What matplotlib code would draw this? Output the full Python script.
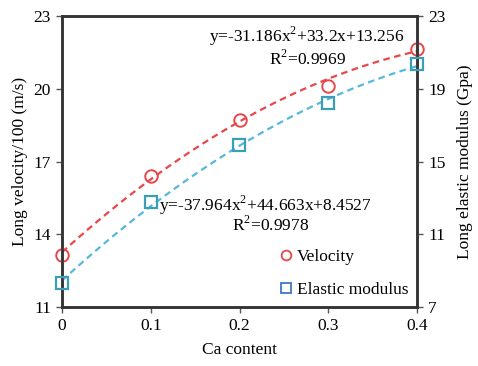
import matplotlib.pyplot as plt
import numpy as np
from matplotlib.lines import Line2D

plt.rcParams["font.family"] = ["Liberation Serif", "DejaVu Serif"]
plt.rcParams["mathtext.fontset"] = "custom"
plt.rcParams["mathtext.rm"] = "Liberation Serif"

# Data.
ca_content = [0, 0.1, 0.2, 0.3, 0.4]
velocity = [13.15, 16.42, 18.72, 20.12, 21.65]
modulus = [8.3, 12.75, 15.88, 18.2, 20.35]
vel_fit = [-31.186, 33.2, 13.256]
mod_fit = [-37.964, 44.663, 8.4527]

red = "#e8474a"
blue = "#56b8dc"
teal = "#3a9fb5"

fig = plt.figure(figsize=(4.78, 3.66), dpi=100)
ax = fig.add_axes([62 / 478, 1 - 307 / 366, 355 / 478, 291 / 366])
ax2 = ax.twinx()

xs = np.linspace(0, 0.4, 100)
ax.plot(xs, np.polyval(vel_fit, xs), "--", color=red, lw=1.6, dashes=(3, 2))
ax2.plot(xs, np.polyval(mod_fit, xs), "--", color=blue, lw=1.6, dashes=(3, 2))
ax.plot(ca_content, velocity, "o", mfc="none", mec=red, ms=9, mew=1.4,
        clip_on=False, zorder=5)
ax2.plot(ca_content, modulus, "s", mfc="none", mec=teal, ms=9, mew=1.6,
         clip_on=False, zorder=5)

ax.set_xlim(0, 0.4)
ax.set_ylim(11, 23)
ax2.set_ylim(7, 23)
ax.set_xticks([0, 0.1, 0.2, 0.3, 0.4])
ax.set_xticklabels(["0", "0.1", "0.2", "0.3", "0.4"])
ax.set_yticks([11, 14, 17, 20, 23])
ax2.set_yticks([7, 11, 15, 19, 23])

for a in (ax, ax2):
    a.tick_params(labelsize=12.5, length=4, width=1, color="#555555",
                  pad=4)
    for s in a.spines.values():
        s.set_linewidth(1.8)
        s.set_color("#333333")

ax.set_xlabel("Ca content", fontsize=12.5, labelpad=6)
ax.set_ylabel("Long velocity/100 (m/s)", fontsize=12.5, labelpad=4)
ax2.set_ylabel("Long elastic modulus (Gpa)", fontsize=12.5, labelpad=8)

# fit equations
ax.text(0.2755, 22.15, "y=-31.186x$^2$+33.2x+13.256", fontsize=12.5,
        ha="center", va="center")
ax.text(0.2765, 21.24, "R$^2$=0.9969", fontsize=12.5, ha="center",
        va="center")
ax.text(0.109, 15.2, "y=-37.964x$^2$+44.663x+8.4527", fontsize=12.5,
        ha="left", va="center")
ax.text(0.2355, 14.36, "R$^2$=0.9978", fontsize=12.5, ha="center",
        va="center")

handles = [
    Line2D([], [], marker="o", ls="none", mfc="none", mec=red, ms=7, mew=1.3),
    Line2D([], [], marker="s", ls="none", mfc="none", mec="#3b78c0", ms=7,
           mew=1.3),
]
ax.legend(handles, ["Velocity", "Elastic modulus"], loc="lower right",
          frameon=False, fontsize=12.5, handletextpad=0.1, labelspacing=1.0,
          handlelength=1.0, borderaxespad=0.1)

fig.savefig("out.png", dpi=100)
